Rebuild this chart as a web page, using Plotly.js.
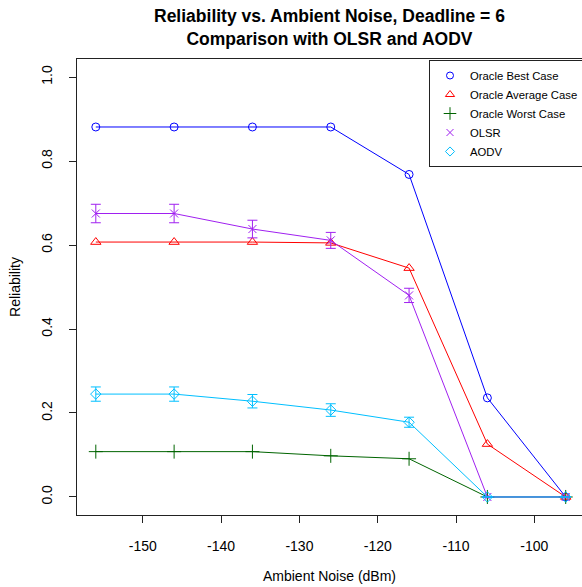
<!DOCTYPE html>
<html>
<head>
<meta charset="utf-8">
<script src="https://cdn.plot.ly/plotly-3.0.1.min.js"></script>
<style>html,body{margin:0;padding:0;background:#fff;overflow:hidden;}#chart{width:582px;height:587px;}</style>
</head>
<body>
<div id="chart"></div>
<script>
const noise = [-156, -146, -136, -126, -116, -106, -96];
const oracleBest = [0.881, 0.881, 0.881, 0.881, 0.768, 0.236, 0.0];
const oracleAvg = [0.607, 0.607, 0.607, 0.605, 0.545, 0.126, 0.0];
const oracleWorst = [0.108, 0.108, 0.108, 0.098, 0.091, 0.0, 0.0];
const olsr = [0.675, 0.675, 0.638, 0.611, 0.480, 0.0, 0.0];
const olsrErr = [0.022, 0.022, 0.021, 0.019, 0.017, 0.0, 0.0];
const aodv = [0.245, 0.245, 0.228, 0.207, 0.178, 0.0, 0.0];
const aodvErr = [0.017, 0.017, 0.016, 0.015, 0.012, 0.0, 0.0];
const xTicks = [-150, -140, -130, -120, -110, -100];
const yTicks = [0.0, 0.2, 0.4, 0.6, 0.8, 1.0];
const yTickText = ['0.0', '0.2', '0.4', '0.6', '0.8', '1.0'];

const seriesNames = ['Oracle Best Case', 'Oracle Average Case', 'Oracle Worst Case', 'OLSR', 'AODV'];
const seriesColors = ['#0000FF', '#FF0000', '#006400', '#A020F0', '#00BFFF'];
const seriesSymbols = ['circle-open', 'triangle-up-open', 'cross-thin-open', 'x-thin-open', 'diamond-open'];
const seriesSizes = [8, 9, 10, 8, 8];
const seriesValues = [oracleBest, oracleAvg, oracleWorst, olsr, aodv];
const seriesErrors = [null, null, null, olsrErr, aodvErr];

const FONT = 'Liberation Sans, Arial, Helvetica, sans-serif';
const traces = [];
seriesValues.forEach((vals, i) => {
  const t = {
    x: noise, y: vals, type: 'scatter', mode: 'lines+markers',
    name: seriesNames[i], showlegend: false, legendgroup: 'g' + i,
    line: {color: seriesColors[i], width: 1},
    marker: {symbol: seriesSymbols[i], size: seriesSizes[i], color: seriesColors[i], line: {color: seriesColors[i], width: 1}},
    cliponaxis: false
  };
  if (seriesErrors[i]) {
    t.error_y = {type: 'data', array: seriesErrors[i], visible: true, color: seriesColors[i], thickness: 1, width: 5};
  }
  traces.push(t);
});
seriesValues.forEach((vals, i) => {
  traces.push({
    x: [null], y: [null], type: 'scatter', mode: 'markers',
    name: seriesNames[i], showlegend: true, legendgroup: 'g' + i,
    marker: {symbol: seriesSymbols[i], size: seriesSizes[i] - 1, color: seriesColors[i], line: {color: seriesColors[i], width: 1}}
  });
});

const layout = {
  width: 582, height: 587,
  margin: {l: 77, r: 0, t: 59, b: 72, pad: 0, autoexpand: false},
  paper_bgcolor: '#fff', plot_bgcolor: '#fff',
  font: {family: FONT, size: 14, color: '#000'},
  annotations: [{
    text: '<b>Reliability vs. Ambient Noise, Deadline = 6<br>Comparison with OLSR and AODV</b>',
    font: {family: FONT, size: 17.5, color: '#000'},
    xref: 'paper', x: 0.5, xanchor: 'center',
    yref: 'paper', y: 1 + (59 - 4) / 456, yanchor: 'top',
    showarrow: false, align: 'center'
  }],
  xaxis: {
    range: [-158.4, -93.92], tickvals: xTicks, ticktext: xTicks.map(String),
    showgrid: false, zeroline: false, automargin: false,
    showline: true, mirror: true, linecolor: '#222', linewidth: 1,
    ticks: 'outside', ticklen: 7, tickcolor: '#222', tickwidth: 1,
    ticklabelstandoff: 11,
    tickfont: {family: FONT, size: 14, color: '#000'},
    title: {text: 'Ambient Noise (dBm)', font: {family: FONT, size: 14, color: '#000'}, standoff: 18}
  },
  yaxis: {
    range: [-0.0429, 1.0429], tickvals: yTicks, ticktext: yTickText,
    showgrid: false, zeroline: false, automargin: false,
    showline: true, linecolor: '#222', linewidth: 1,
    ticks: 'outside', ticklen: 7, tickcolor: '#222', tickwidth: 1,
    tickangle: -90, ticklabelstandoff: 11,
    tickfont: {family: FONT, size: 14, color: '#000'},
    title: {text: 'Reliability', font: {family: FONT, size: 14, color: '#000'}, standoff: 15}
  },
  legend: {
    xref: 'container', yref: 'container',
    x: 429 / 582, xanchor: 'left', y: 1 - 60 / 587, yanchor: 'top',
    bgcolor: '#fff', bordercolor: '#222', borderwidth: 1,
    font: {family: FONT, size: 11.3, color: '#000'},
    tracegroupgap: 0, itemwidth: 30
  }
};

Plotly.newPlot('chart', traces, layout, {staticPlot: true, displayModeBar: false});
</script>
</body>
</html>
